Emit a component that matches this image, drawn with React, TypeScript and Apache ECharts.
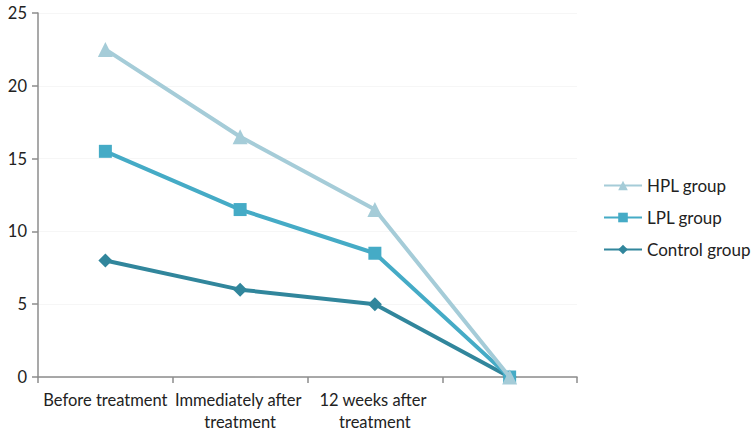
import React, { useEffect, useRef } from "react";
import * as echarts from "echarts";

const categories = ["Before treatment", "Immediately after treatment", "12 weeks after treatment", ""];
const hplValues = [22.5, 16.5, 11.5, 0];
const lplValues = [15.5, 11.5, 8.5, 0];
const controlValues = [8, 6, 5, 0];
const seriesNames = ["HPL group", "LPL group", "Control group"];

export default function App() {
  const ref = useRef<HTMLDivElement>(null);
  useEffect(() => {
    if (!ref.current) return;
    const chart = echarts.init(ref.current, null, { renderer: "svg" });
    const font = "Lato, 'Open Sans', sans-serif";
    chart.setOption({
      animation: false,
      textStyle: { fontFamily: font },
      grid: { left: 38, right: 179, top: 13, bottom: 63, containLabel: false },
      legend: {
        orient: "vertical",
        left: 598,
        top: 172,
        itemWidth: 38,
        itemHeight: 12,
        itemGap: 15,
        data: seriesNames,
        textStyle: { fontSize: 17, color: "#222", fontFamily: font },
      },
      xAxis: {
        type: "category",
        data: categories,
        boundaryGap: true,
        axisLine: { lineStyle: { color: "#8c8c8c", width: 1.5 } },
        axisTick: { show: true, length: 6, lineStyle: { color: "#8c8c8c", width: 1.5 } },
        axisLabel: {
          color: "#222",
          fontSize: 16.5,
          fontFamily: font,
          interval: 0,
          width: 134,
          overflow: "break",
          lineHeight: 22,
          margin: 12,
        },
      },
      yAxis: {
        type: "value",
        min: 0,
        max: 25,
        interval: 5,
        axisLine: { show: true, lineStyle: { color: "#8c8c8c", width: 1.5 } },
        axisTick: { show: true, length: 6, lineStyle: { color: "#8c8c8c", width: 1.5 } },
        axisLabel: { color: "#222", fontSize: 16.5, fontFamily: font, margin: 11 },
        splitLine: { show: true, lineStyle: { color: "#f6f6f6", width: 1 } },
      },
      series: [
        {
          name: "Control group",
          type: "line",
          data: controlValues,
          symbol: "diamond",
          symbolSize: 14,
          lineStyle: { width: 4, color: "#31869C" },
          itemStyle: { color: "#31869C" },
          z: 2,
        },
        {
          name: "LPL group",
          type: "line",
          data: lplValues,
          symbol: "rect",
          symbolSize: 13,
          lineStyle: { width: 4, color: "#45ABC6" },
          itemStyle: { color: "#45ABC6" },
          z: 3,
        },
        {
          name: "HPL group",
          type: "line",
          data: hplValues,
          symbol: "triangle",
          symbolSize: 15,
          lineStyle: { width: 4, color: "#A5CCD8" },
          itemStyle: { color: "#A5CCD8" },
          z: 4,
        },
      ],
    });
    return () => chart.dispose();
  }, []);
  return <div ref={ref} style={{ width: 756, height: 440, position: "absolute", left: 0, top: 0 }} />;
}
